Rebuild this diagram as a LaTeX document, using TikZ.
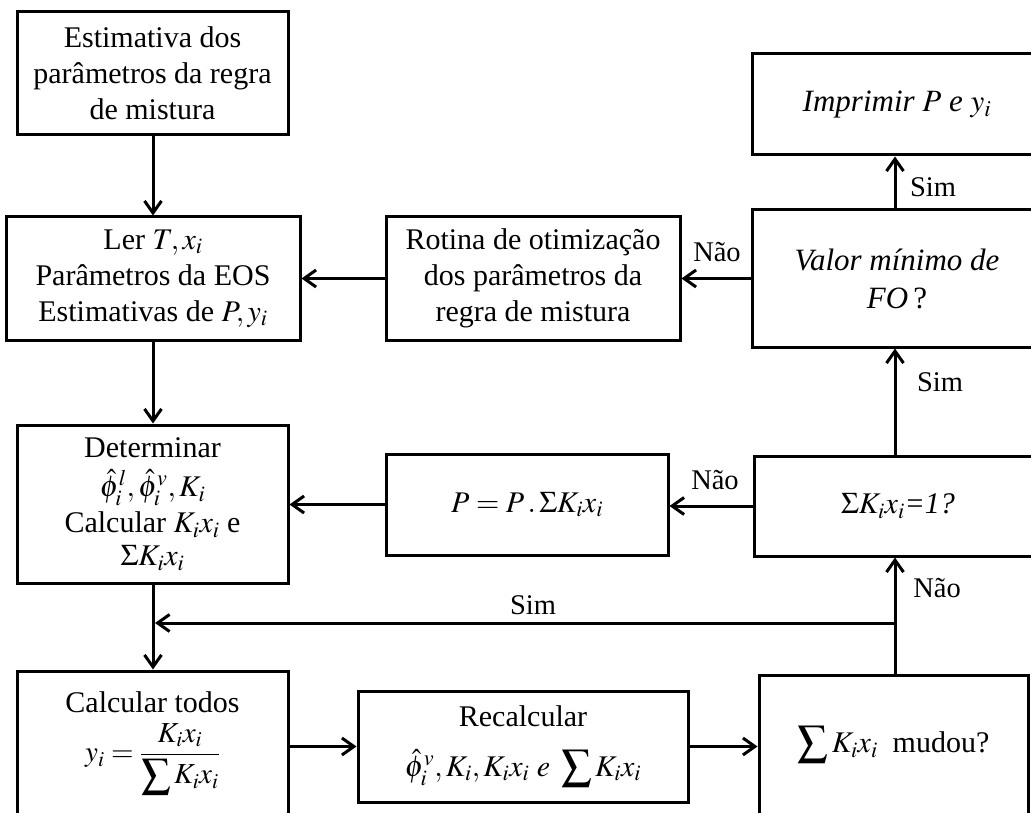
\documentclass[tikz,border=0pt]{standalone}
\usepackage{mathptmx}
\usepackage{fontspec}
\setmainfont{Liberation Serif}
\usetikzlibrary{arrows.meta}
\begin{document}
\begin{tikzpicture}[x=1pt,y=-1pt,
  box/.style={draw, line width=3pt, rectangle, inner sep=0pt, align=center, font=\fontsize{30}{36}\selectfont},
  itbox/.style={box, font=\fontsize{31}{38}\selectfont\itshape},
  arr/.style={line width=3pt, -{Straight Barb[length=12pt,width=17pt]}},
  lbl/.style={font=\fontsize{28.5}{34}\selectfont, inner sep=0pt}]
\useasboundingbox (0,0) rectangle (1031,813);
\clip (0,0) rectangle (1031,813);
\coordinate (rc) at (895,0);
\coordinate (lc) at (153,0);
% left column
\node[box, minimum width=271pt, minimum height=158pt] (det) at (152.5,504)
  {Determinar\\[3pt]$\hat{\phi}^{l}_{i}, \hat{\phi}^{v}_{i}, K_{i}$\\[0pt]Calcular $K_{i}x_{i}$ e\\[-3pt]$\Sigma K_{i}x_{i}$};
\node[box, minimum width=271pt, minimum height=123pt] (est) at (152.5,73.5)
  {Estimativa dos\\parâmetros da regra\\de mistura};
\node[box, minimum width=294pt, minimum height=123pt] (ler) at (153,278.5)
  {Ler $T, x_i$\\Parâmetros da EOS\\Estimativas de $P, y_i$};
\node[box, minimum width=271pt, minimum height=144pt] (calc) at (152.5,743)
  {Calcular todos\\[10pt]{\fontsize{29}{32}\selectfont$\displaystyle y_i=\frac{K_ix_i}{\displaystyle\sum K_ix_i}$}};
% middle column
\node[box, minimum width=294pt, minimum height=123pt] (rot) at (533,278.5)
  {Rotina de otimização\\dos parâmetros da\\regra de mistura};
\node[box, minimum width=282pt, minimum height=101pt] (pbox) at (527,504.5)
  {$P = P\,.\,\Sigma K_i x_i$};
\node[box, minimum width=330pt, minimum height=111pt] (rec) at (523,746.5)
  {Recalcular\\[14pt]$\hat{\phi}^{v}_{i}, K_i, K_ix_i\ e\ \displaystyle\sum K_ix_i$};
% right column
\node[itbox, minimum width=290pt, minimum height=101pt] (imp) at (897,104.5)
  {Imprimir $P$ e $y_i$};
\node[itbox, minimum width=290pt, minimum height=137pt] (val) at (897,278.5)
  {Valor mínimo de\\FO\,{\upshape ?}};
\node[box, minimum width=288pt, minimum height=100pt] (sum) at (898,506)
  {$\Sigma K_i x_i$\textit{=1?}};
\node[box, minimum width=269pt, minimum height=140pt] (mud) at (893.5,745)
  {$\displaystyle\sum K_ix_i$\ \ mudou?};
% connectors
\draw[arr] (est.south -| lc) -- (ler.north -| lc);
\draw[arr] (ler.south -| lc) -- (det.north -| lc);
\draw[arr] (det.south -| lc) -- (calc.north -| lc);
\draw[arr] (rot.west) -- (ler.east);
\draw[arr] (val.west) -- (rot.east);
\draw[arr] (val.north -| rc) -- (imp.south -| rc);
\draw[arr] (sum.north -| rc) -- (val.south -| rc);
\draw[arr] (pbox.west) -- (pbox.west -| det.east);
\draw[arr] (sum.west) -- (sum.west -| pbox.east);
\draw[arr] (mud.north -| rc) -- (sum.south -| rc);
\coordinate (j) at (895,623);
\coordinate (jl) at (155,623);
\draw[arr] (j) -- (jl);
\draw[arr] (calc.east |- rec.west) -- (rec.west);
\draw[arr] (rec.east) -- (rec.east -| mud.west);
% labels
\node[lbl] (l1) at (717,252) {Não};
\node[lbl] (l2) at (933,187) {Sim};
\node[lbl] (l3) at (940,382) {Sim};
\node[lbl] (l4) at (715,480) {Não};
\node[lbl] (l5) at (937,588) {Não};
\node[lbl] (l6) at (533,605) {Sim};
\end{tikzpicture}
\end{document}
